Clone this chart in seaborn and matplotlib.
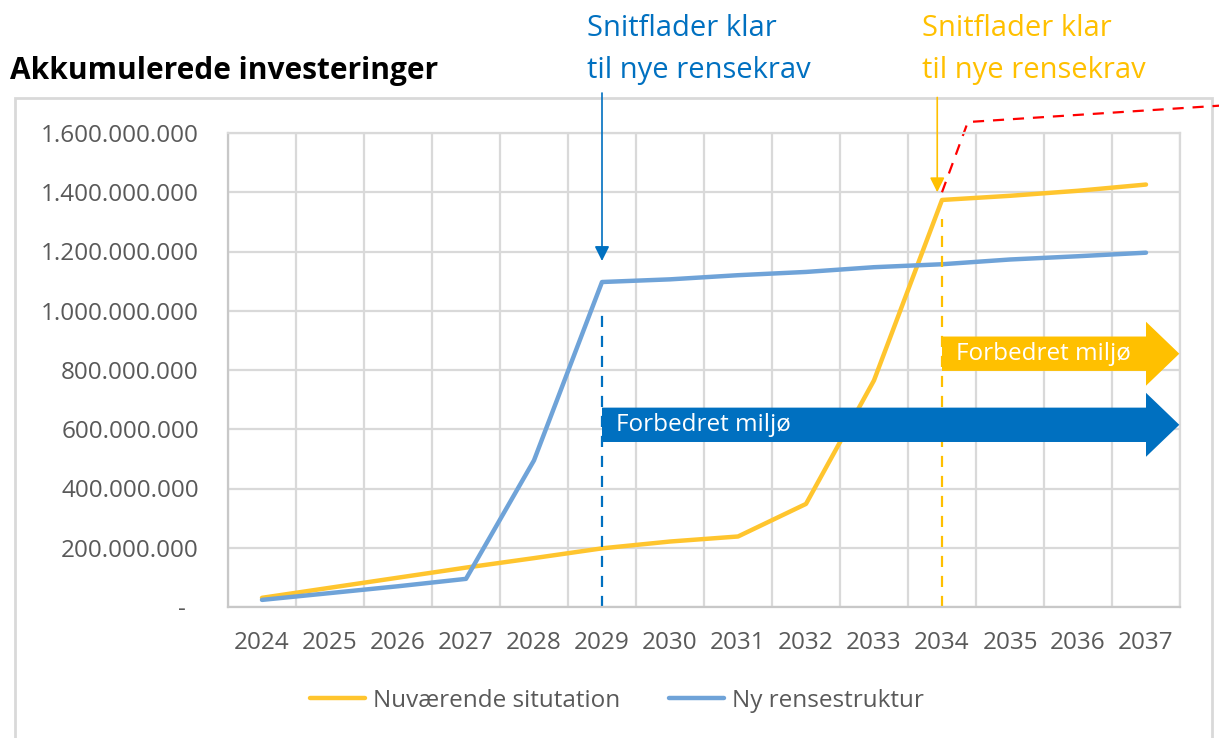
import numpy as np
import pandas as pd
import matplotlib.pyplot as plt
import seaborn as sns
from matplotlib.patches import Polygon, Rectangle
from matplotlib.ticker import FuncFormatter, MultipleLocator

years = ["2024", "2025", "2026", "2027", "2028", "2029", "2030",
         "2031", "2032", "2033", "2034", "2035", "2036", "2037"]
nuvaerende = [31e6, 65e6, 99e6, 133e6, 165e6, 198e6, 221e6,
              238e6, 348e6, 765e6, 1374e6, 1388e6, 1405e6, 1426e6]
ny_struktur = [24e6, 47e6, 70e6, 95e6, 495e6, 1097e6, 1106e6,
               1120e6, 1131e6, 1147e6, 1157e6, 1173e6, 1184e6, 1196e6]
series_names = ["Nuværende situtation", "Ny rensestruktur"]

YELLOW = "#FFC000"
YELLOW_LINE = "#FFC52E"
BLUE = "#0070C0"
BLUE_LINE = "#6FA3D8"
GRID = "#D9D9D9"
TXT = "#595959"
FS = 17.5

sns.set_theme(style="white")
plt.rcParams["font.family"] = ["Open Sans", "DejaVu Sans"]

df = pd.DataFrame({
    "pos": list(range(len(years))) * 2,
    "value": nuvaerende + ny_struktur,
    "serie": [series_names[0]] * len(years) + [series_names[1]] * len(years),
})

fig = plt.figure(figsize=(12.19, 7.38), dpi=100)
ax = fig.add_axes([228 / 1219, 1 - 607 / 738, 952 / 1219, 474 / 738])

sns.lineplot(data=df, x="pos", y="value", hue="serie", ax=ax,
             palette=[YELLOW_LINE, BLUE_LINE], linewidth=3.2, legend=False)

ax.set_xlim(-0.5, len(years) - 0.5)
ax.set_ylim(0, 1.6e9)
ax.set_xticks(range(len(years)))
ax.set_xticklabels(years)
ax.xaxis.set_minor_locator(MultipleLocator(1, offset=0.5))
ax.yaxis.set_major_locator(MultipleLocator(2e8))
ax.yaxis.set_major_formatter(FuncFormatter(
    lambda v, p: "-\u00a0\u00a0" if v == 0 else f"{v:,.0f}".replace(",", ".")))
ax.grid(True, which="major", axis="y", color=GRID, lw=1.6)
ax.grid(True, which="minor", axis="x", color=GRID, lw=1.6)
ax.tick_params(axis="both", which="both", length=0, labelsize=FS, colors=TXT)
ax.tick_params(axis="y", pad=21)
ax.tick_params(axis="x", pad=17)
ax.set_xlabel("")
ax.set_ylabel("")
for s in ax.spines.values():
    s.set_color(GRID)
    s.set_linewidth(1.6)
ax.spines["bottom"].set_color("#C8C8C8")
ax.spines["left"].set_color("#C8C8C8")

# dashed verticals at the milestone years
i_blue = years.index("2029")
i_yel = years.index("2034")
ax.plot([i_blue, i_blue], [0, 1.0e9], color=BLUE, lw=1.6, ls=(0, (5, 4)))
ax.plot([i_yel, i_yel], [0, 1.31e9], color=YELLOW, lw=1.6, ls=(0, (5, 4)))

# red dashed line
ax.plot([10.0, 10.38, 14.6], [1.40e9, 1.637e9, 1.70e9], color="#FF0000",
        lw=1.6, ls=(0, (5, 4)), clip_on=False)


def big_arrow(x0, yc, color, label):
    body, head = 0.058e9, 0.108e9
    hx, tip = 13.0, 13.49
    pts = [(x0, yc - body), (hx, yc - body), (hx, yc - head), (tip, yc),
           (hx, yc + head), (hx, yc + body), (x0, yc + body)]
    ax.add_patch(Polygon(pts, closed=True, color=color, lw=0, zorder=4))
    ax.text(x0 + 0.2, yc, label, color="white", fontsize=FS,
            va="center", ha="left", zorder=5)


big_arrow(i_blue, 0.615e9, BLUE, "Forbedret miljø")
big_arrow(i_yel, 0.855e9, YELLOW, "Forbedret miljø")

# callout arrows
ax.annotate("", xy=(i_blue, 1.168e9), xytext=(i_blue, 1.735e9),
            arrowprops=dict(arrowstyle="-|>", color=BLUE, lw=1.2,
                            mutation_scale=22, shrinkA=0, shrinkB=0),
            annotation_clip=False)
ax.annotate("", xy=(9.93, 1.40e9), xytext=(9.93, 1.72e9),
            arrowprops=dict(arrowstyle="-|>", color=YELLOW, lw=1.2,
                            mutation_scale=22, shrinkA=0, shrinkB=0),
            annotation_clip=False)

fig.text(587 / 1219, 1 - 14 / 738, "Snitflader klar\ntil nye rensekrav",
         color=BLUE, fontsize=21, va="top", ha="left", linespacing=1.6)
fig.text(922 / 1219, 1 - 14 / 738, "Snitflader klar\ntil nye rensekrav",
         color=YELLOW, fontsize=21, va="top", ha="left", linespacing=1.6)

fig.text(10 / 1219, 1 - 79 / 738, "Akkumulerede investeringer",
         color="black", fontsize=21.5, fontweight="bold", va="baseline", ha="left")

# chart frame
fig.add_artist(Rectangle((15 / 1219, -0.05), 1197 / 1219, 1.05 - 98 / 738,
                         transform=fig.transFigure, fill=False,
                         edgecolor=GRID, lw=2, zorder=0))

handles = [plt.Line2D([], [], color=YELLOW_LINE, lw=3.2),
           plt.Line2D([], [], color=BLUE_LINE, lw=3.2)]
leg = fig.legend(handles, series_names, loc="center",
                 bbox_to_anchor=(617 / 1219, 1 - 701 / 738), ncol=2,
                 frameon=False, fontsize=FS, handlelength=2.26,
                 handletextpad=0.35, columnspacing=2.0)
for t in leg.get_texts():
    t.set_color(TXT)

fig.savefig("out.png", dpi=100)
